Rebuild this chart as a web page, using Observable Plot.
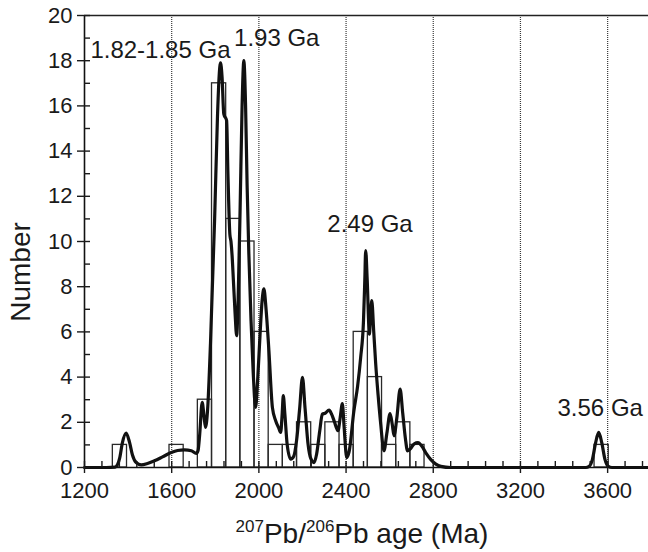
<!DOCTYPE html>
<html><head><meta charset="utf-8">
<script src="https://cdn.jsdelivr.net/npm/d3@7"></script>
<script src="https://cdn.jsdelivr.net/npm/@observablehq/plot@0.6"></script>
<style>body{margin:0;background:#fff} #chart{width:648px;height:552px}</style>
</head><body><div id="chart"></div>
<script>
// ---- data ----
const binStart = [1330, 1590, 1720, 1785, 1850, 1915, 1980, 2045, 2110, 2175, 2240, 2305, 2370, 2435, 2500, 2565, 2630, 2695, 3540];
const binCount = [1, 1, 3, 17, 11, 10, 6, 1, 1, 2, 1, 2, 1, 6, 4, 1, 2, 1, 1];
const binWidth = 65;

const curveAge = [1200,1300,1340,1346,1361,1374,1391,1407,1420,1437,1460,1489,1521,1558,1598,1627,1659,1690,1713,1721,1728,1740,1748,1755,1765,1778,1797,1810,1817,1824,1831,1839,1852,1858,1867,1872,1877,1883,1891,1898,1905,1914,1923,1931,1939,1946,1954,1964,1974,1985,1994,2006,2015,2023,2033,2046,2062,2077,2091,2100,2107,2112,2119,2130,2146,2160,2173,2187,2200,2212,2226,2238,2253,2265,2279,2291,2304,2322,2334,2345,2363,2373,2383,2391,2403,2414,2436,2453,2467,2480,2486,2490,2497,2507,2512,2518,2527,2536,2547,2559,2574,2587,2602,2612,2620,2633,2648,2660,2672,2682,2697,2713,2730,2747,2766,2789,2812,2835,2880,3500,3515,3530,3545,3559,3573,3588,3603,3620,3787];
const curveValue = [0,0,0.02,0.05,0.4,1.1,1.52,1.1,0.55,0.22,0.12,0.18,0.3,0.47,0.66,0.75,0.78,0.74,0.62,0.75,1.4,2.88,2.3,1.77,2.6,5.5,11,15.5,17.2,17.9,17.3,15.65,15.35,13,10.3,10.0,9.4,8.3,6.8,5.83,7.5,11.5,16,18.0,16,12.5,9.45,6.5,4.2,2.66,3.8,6.0,7.4,7.9,7.0,5.17,2.66,2.07,1.75,1.55,2.4,3.18,2.4,1.0,0.37,0.5,1.2,2.6,3.99,2.6,1.0,0.4,0.22,0.6,1.6,2.36,2.4,2.54,2.35,2.07,1.63,2.2,2.83,1.8,0.44,0.7,2.51,3.6,4.87,6.5,8.3,9.6,8.3,5.9,6.6,7.38,6.0,4.58,3.2,1.92,0.74,1.5,2.39,1.9,1.4,2.2,3.47,2.4,1.3,0.74,0.85,1.05,1.1,0.95,0.65,0.35,0.15,0.05,0,0,0.05,0.35,1.1,1.55,1.1,0.35,0.05,0,0];

const refAges = [1600, 2000, 2400, 2800, 3200, 3600];
const xTickLabels = [1200, 1600, 2000, 2400, 2800, 3200, 3600];
const yTickLabels = [0, 2, 4, 6, 8, 10, 12, 14, 16, 18, 20];
const peakLabels = ["1.82-1.85 Ga", "1.93 Ga", "2.49 Ga", "3.56 Ga"];

// ---- derived tables ----
const bins = binStart.map((s, i) => ({x1: s, x2: s + binWidth, n: binCount[i]}));
const curve = curveAge.map((a, i) => ({age: a, v: curveValue[i]}));
// label placement (age, number) at text baseline-left
const labelPlace = [[1227, 18.13], [1886, 18.67], [2314, 10.4], [3370, 2.26]];
const labels = peakLabels.map((t, i) => ({t, x: labelPlace[i][0], y: labelPlace[i][1]}));

const FONT = "'Liberation Sans', Arial, Helvetica, sans-serif";

const chart = Plot.plot({
  width: 648, height: 552,
  marginLeft: 84, marginRight: 0, marginTop: 15, marginBottom: 85,
  x: {domain: [1200, 3787.5]},
  y: {domain: [0, 20]},
  style: {fontFamily: FONT, background: "white", color: "#1a1a1a", overflow: "visible"},
  marks: [
    Plot.ruleX(refAges, {stroke: "#3a3a3a", strokeWidth: 1.2, strokeDasharray: "1,1"}),
    Plot.rectY(bins, {x1: "x1", x2: "x2", y: "n", fill: "none", stroke: "#2a2a2a", strokeWidth: 1.3, inset: 0}),
    Plot.line(curve, {x: "age", y: "v", curve: "monotone-x", stroke: "#111", strokeWidth: 3.2, strokeLinejoin: "round"}),
    Plot.ruleY([0], {stroke: "#111", strokeWidth: 1.6}),
    Plot.ruleY([20], {stroke: "#222", strokeWidth: 1.4}),
    Plot.ruleX([1200], {stroke: "#111", strokeWidth: 1.6}),
    // x axis: labelled ticks outward, all ticks inward
    Plot.axisX(xTickLabels, {anchor: "bottom", tickSize: 6, tickPadding: 9, fontSize: 22, strokeWidth: 1.4, tickFormat: d => String(d), label: null}),
    Plot.axisX(d3.range(1200, 3788, 80), {anchor: "bottom", tickSize: 6, dy: -6, text: null, strokeWidth: 1.4, label: null}),
    // y axis
    Plot.axisY(yTickLabels, {anchor: "left", tickSize: 7, tickPadding: 5, fontSize: 22, strokeWidth: 1.4, label: null}),
    Plot.axisY(d3.range(0, 21, 1), {anchor: "left", tickSize: 6, dx: 6, text: null, strokeWidth: 1.4, label: null}),
    Plot.text(labels, {x: "x", y: "y", text: "t", textAnchor: "start", lineAnchor: "bottom", fontSize: 24, fill: "#1a1a1a"})
  ]
});
document.getElementById("chart").appendChild(chart);

const svg = d3.select(chart);
svg.append("text")
  .attr("transform", "translate(30,272) rotate(-90)")
  .attr("text-anchor", "middle")
  .attr("font-family", FONT).attr("font-size", 28).attr("fill", "#1a1a1a")
  .text("Number");
const xt = svg.append("text")
  .attr("x", 362).attr("y", 543)
  .attr("text-anchor", "middle")
  .attr("font-family", FONT).attr("font-size", 28).attr("fill", "#1a1a1a");
xt.append("tspan").attr("font-size", 17).attr("dy", -11).text("207");
xt.append("tspan").attr("dy", 11).text("Pb/");
xt.append("tspan").attr("font-size", 17).attr("dy", -11).text("206");
xt.append("tspan").attr("dy", 11).text("Pb age (Ma)");
</script></body></html>
